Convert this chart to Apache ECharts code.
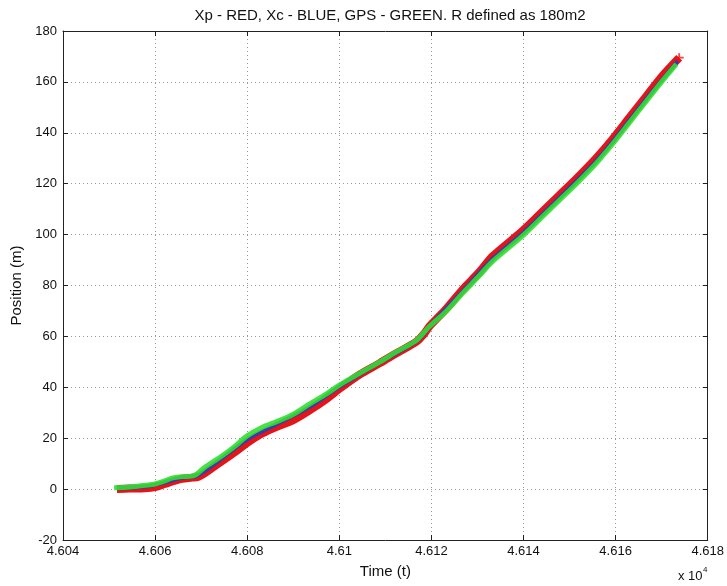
<!DOCTYPE html>
<html>
<head>
<meta charset="utf-8">
<script src="https://cdn.jsdelivr.net/npm/echarts@6/dist/echarts.min.js"></script>
<style>html,body{margin:0;padding:0;background:#fff;}#c{width:727px;height:586px;}</style>
</head>
<body>
<div id="c"></div>
<script>
// Time values (t, seconds) and positions (m)
const tGps = [46051.1,46054.5,46057.8,46060.0,46062.1,46063.6,46065.8,46068.0,46069.1,46070.8,46074.1,46077.3,46079.9,46083.2,46086.4,46089.9,46093.6,46097.3,46100.1,46104.4,46108.8,46112.5,46116.8,46118.5,46119.6,46123.3,46126.8,46130.5,46133.3,46139.8,46144.1,46147.8,46151.5,46155.0,46156.5,46159.3,46163.0,46166.7,46170.2,46173.2];
const yGps = [0.5,0.8,1.5,2.0,3.2,4.3,4.9,5.1,6.0,8.6,12.5,16.8,20.8,24.2,26.5,29.3,33.5,37.5,41.0,45.5,50,54,58.5,61.8,64,70,77,84,89.5,99.5,107,113.5,120,126.5,129.5,135.5,144,152.5,160.5,167];
const tXp = [46051.7,46054.5,46057.8,46060.0,46062.1,46063.6,46065.8,46068.0,46069.3,46070.8,46074.1,46077.3,46079.9,46083.2,46086.4,46089.9,46093.6,46097.3,46100.1,46104.4,46108.8,46112.5,46116.8,46118.5,46119.6,46123.3,46126.8,46130.5,46133.3,46139.8,46144.1,46147.8,46151.5,46155.0,46156.5,46159.3,46163.0,46166.7,46170.2,46173.8];
const yXp = [0,0.2,0.3,0.8,2.0,2.9,4.0,4.5,4.8,6.3,10.5,14.5,18.0,21.8,24.5,27,31,35.5,39.5,45,49.5,53.5,58,61.2,64,71,78.5,85.5,91.5,101.5,109,115.5,122,128.5,131.5,137.5,146,154.5,162.5,169.5];
const tXc = [46051.7,46057.8,46062.1,46065.8,46069.3,46074.1,46079.9,46086.4,46093.6,46100.1,46108.8,46116.8,46119.6,46126.8,46133.3,46139.8,46147.8,46155.0,46159.3,46166.7,46173.5];
const yXc = [0.3,1.0,2.6,4.4,5.4,11.5,19.4,25.5,32.3,40.3,49.8,58.2,64.0,77.8,90.5,100.5,114.5,127.5,136.5,153.5,168.2];
const xTicks = [46040,46180,20];
const yTicks = [-20,180,20];

const zip = (a,b) => a.map((v,i)=>[v,b[i]]);
const chart = echarts.init(document.getElementById('c'));
const FONT = 'Liberation Sans, Arial, sans-serif';
const fmtX = v => String(+(v/1e4).toFixed(4));
const axisLineS = {show:true, onZero:false, lineStyle:{color:'#222', width:1}};
const tickS = {show:true, inside:true, length:5, lineStyle:{color:'#222'}};
const gridS = {show:true, lineStyle:{color:'#999', type:[1,3], width:1}};
chart.setOption({
  backgroundColor:'#fff',
  animation:false,
  title:{text:'Xp - RED, Xc - BLUE, GPS - GREEN. R defined as 180m2', left:385, top:3, textAlign:'center',
    textStyle:{fontFamily:FONT, fontSize:15, fontWeight:'normal', color:'#111'}},
  grid:{left:63, right:19, top:31, bottom:46},
  xAxis:[
    {type:'value', min:xTicks[0], max:xTicks[1], interval:xTicks[2], position:'bottom',
     axisLine:axisLineS, axisTick:tickS, splitLine:gridS,
     axisLabel:{formatter:fmtX, color:'#111', fontFamily:FONT, fontSize:13, margin:5},
     name:'Time (t)', nameLocation:'middle', nameGap:24,
     nameTextStyle:{color:'#111', fontFamily:FONT, fontSize:15}},
    {type:'value', min:xTicks[0], max:xTicks[1], interval:xTicks[2], position:'top',
     axisLine:axisLineS, axisTick:tickS, splitLine:{show:false}, axisLabel:{show:false}}
  ],
  yAxis:[
    {type:'value', min:yTicks[0], max:yTicks[1], interval:yTicks[2], position:'left',
     axisLine:axisLineS, axisTick:tickS, splitLine:gridS,
     axisLabel:{color:'#111', fontFamily:FONT, fontSize:13, margin:6},
     name:'Position (m)', nameLocation:'middle', nameGap:38, nameRotate:90,
     nameTextStyle:{color:'#111', fontFamily:FONT, fontSize:15}},
    {type:'value', min:yTicks[0], max:yTicks[1], interval:yTicks[2], position:'right',
     axisLine:axisLineS, axisTick:tickS, splitLine:{show:false}, axisLabel:{show:false}}
  ],
  graphic:[{type:'text', left:678, top:570,
    style:{text:'x 10', fill:'#111', font:'13px '+FONT}},
    {type:'text', left:703, top:566, style:{text:'4', fill:'#111', font:'8px '+FONT}}],
  series:[
    {name:'Xp', type:'line', data:zip(tXp,yXp), showSymbol:false, smooth:0.3,
     lineStyle:{color:'#e4141b', width:8}, z:2},
    {name:'Xc', type:'line', data:zip(tXc,yXc), showSymbol:false, smooth:0.3,
     lineStyle:{color:'#3a3aa8', width:4}, z:3},
    {name:'GPS', type:'line', data:zip(tGps,yGps), showSymbol:false, smooth:0.3,
     lineStyle:{color:'#33dd33', width:5, opacity:0.9}, z:4},
    {name:'XpEnd', type:'scatter', data:[[tXp[tXp.length-1], yXp[yXp.length-1]]],
     symbol:'path://M4,0H6V4H10V6H6V10H4V6H0V4H4Z', symbolSize:9,
     itemStyle:{color:'#ee1111'}, z:5}
  ]
});
</script>
</body>
</html>
